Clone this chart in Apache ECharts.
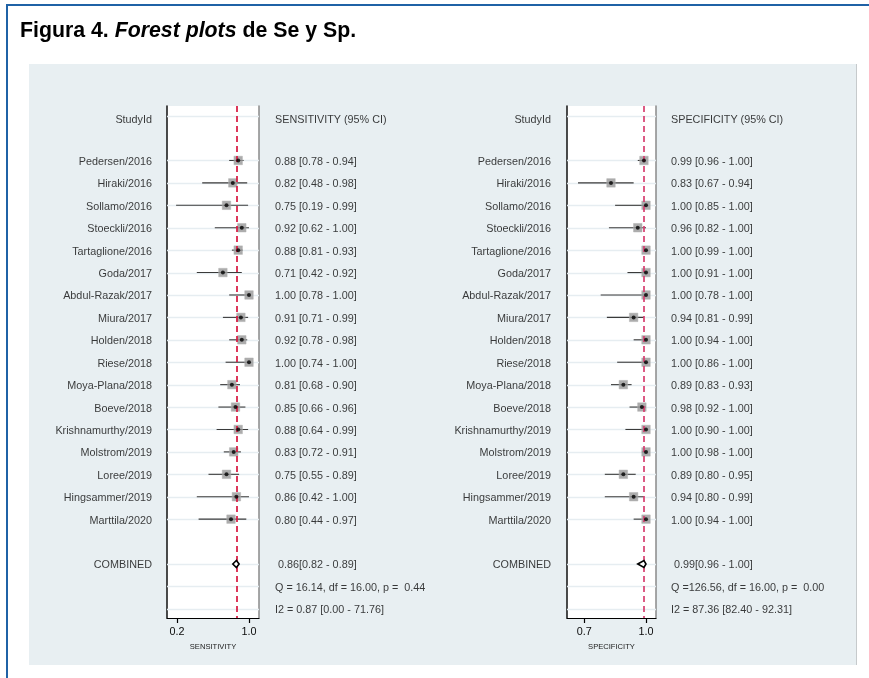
<!DOCTYPE html>
<html>
<head>
<meta charset="utf-8">
<script src="https://cdn.jsdelivr.net/npm/echarts@6/dist/echarts.min.js"></script>
<style>
  html, body { margin: 0; padding: 0; background: #ffffff; }
  #wrap { position: relative; width: 869px; height: 678px; overflow: hidden; }
  /* page frame and shaded figure panel */
  #frameTop { position: absolute; left: 6px; top: 4px; width: 863px; height: 2px; background: #1f62a6; }
  #frameLeft { position: absolute; left: 6px; top: 4px; width: 2px; height: 674px; background: #1f62a6; }
  #panel { position: absolute; left: 29px; top: 64px; width: 827px; height: 601px; background: #e8eff2; border-right: 1px solid #c6cacc; }
  #main { position: absolute; left: 0; top: 0; width: 869px; height: 678px; }
</style>
</head>
<body>
<div id="wrap">
  <div id="frameTop"></div>
  <div id="frameLeft"></div>
  <div id="panel"></div>
  <div id="main"></div>
</div>
<script>
// Study labels
const studies = ['Pedersen/2016', 'Hiraki/2016', 'Sollamo/2016', 'Stoeckli/2016', 'Tartaglione/2016',
  'Goda/2017', 'Abdul-Razak/2017', 'Miura/2017', 'Holden/2018', 'Riese/2018', 'Moya-Plana/2018',
  'Boeve/2018', 'Krishnamurthy/2019', 'Molstrom/2019', 'Loree/2019', 'Hingsammer/2019', 'Marttila/2020'];

// Sensitivity per study: estimate, lower and upper 95% CI
const sens   = [0.88, 0.82, 0.75, 0.92, 0.88, 0.71, 1.00, 0.91, 0.92, 1.00, 0.81, 0.85, 0.88, 0.83, 0.75, 0.86, 0.80];
const sensLo = [0.78, 0.48, 0.19, 0.62, 0.81, 0.42, 0.78, 0.71, 0.78, 0.74, 0.68, 0.66, 0.64, 0.72, 0.55, 0.42, 0.44];
const sensHi = [0.94, 0.98, 0.99, 1.00, 0.93, 0.92, 1.00, 0.99, 0.98, 1.00, 0.90, 0.96, 0.99, 0.91, 0.89, 1.00, 0.97];

// Specificity per study: estimate, lower and upper 95% CI
const spec   = [0.99, 0.83, 1.00, 0.96, 1.00, 1.00, 1.00, 0.94, 1.00, 1.00, 0.89, 0.98, 1.00, 1.00, 0.89, 0.94, 1.00];
const specLo = [0.96, 0.67, 0.85, 0.82, 0.99, 0.91, 0.78, 0.81, 0.94, 0.86, 0.83, 0.92, 0.90, 0.98, 0.80, 0.80, 0.94];
const specHi = [1.00, 0.94, 1.00, 1.00, 1.00, 1.00, 1.00, 0.99, 1.00, 1.00, 0.93, 1.00, 1.00, 1.00, 0.95, 0.99, 1.00];

// Pooled estimates [estimate, lower, upper], heterogeneity Q [Q, df, p] and I2 [I2, lower, upper]
const sensCombined = [0.86, 0.82, 0.89];
const sensQ  = [16.14, 16.00, 0.44];
const sensI2 = [0.87, 0.00, 71.76];
const specCombined = [0.99, 0.96, 1.00];
const specQ  = [126.56, 16.00, 0.00];
const specI2 = [87.36, 82.40, 92.31];

// Axis tick labels
const sensTicks = [0.2, 1.0];
const specTicks = [0.7, 1.0];

const FONT = "'Liberation Sans', Arial, Helvetica, sans-serif";
const TXT = '#0a0a0a';
const FS = 10.8;

// Row layout: header row 0, studies from row 2, pooled row 20, Q row 21, I2 row 22
const ROW_START = 2, ROW_COMB = 20, ROW_Q = 21, ROW_I2 = 22;
const Y_MIN = -0.43, Y_MAX = 22.41;

const f2 = v => v.toFixed(2);

function panelSeries(k, cfg) {
  const xi = k, yi = 2 * k;
  const [xmin, xmax] = cfg.range;
  const n = studies.length;
  const rowsWithText = [0];
  for (let i = 0; i < n; i++) rowsWithText.push(ROW_START + i);
  rowsWithText.push(ROW_COMB, ROW_Q, ROW_I2);

  const ci = cfg.est.map((e, i) => [cfg.lo[i], cfg.hi[i], ROW_START + i]);
  const pts = cfg.est.map((e, i) => [e, ROW_START + i]);

  const headOff = { offset: [0, 4] };
  const names = [{ name: 'StudyId', value: [xmin, 0], label: headOff }]
    .concat(studies.map((s, i) => ({ name: s, value: [xmin, ROW_START + i] })))
    .concat([{ name: 'COMBINED', value: [xmin, ROW_COMB] }]);

  const c = cfg.comb;
  const q = cfg.q, i2 = cfg.i2;
  const values = [{ name: cfg.header, value: [xmax, 0], label: headOff }]
    .concat(cfg.est.map((e, i) => ({ name: `${f2(e)} [${f2(cfg.lo[i])} - ${f2(cfg.hi[i])}]`, value: [xmax, ROW_START + i] })))
    .concat([
      { name: ` ${f2(c[0])}[${f2(c[1])} - ${f2(c[2])}]`, value: [xmax, ROW_COMB] },
      { name: `Q =${f2(q[0]).padStart(6)}, df = ${f2(q[1])}, p = ${f2(q[2]).padStart(5)}`, value: [xmax, ROW_Q] },
      { name: `I2 = ${f2(i2[0])} [${f2(i2[1])} - ${f2(i2[2])}]`, value: [xmax, ROW_I2] }
    ]);

  const textStyle = { fontFamily: FONT, fontSize: FS, color: TXT, offset: [0, 1.5] };

  return [
    // light row guides inside the plot box
    {
      type: 'custom', xAxisIndex: xi, yAxisIndex: yi, z: 1, silent: true,
      data: rowsWithText.map(r => [xmin, r]),
      renderItem: (params, api) => {
        const cs = params.coordSys;
        const y = Math.round(api.coord([xmin, api.value(1)])[1]) + 0.5;
        return { type: 'line', shape: { x1: cs.x, y1: y, x2: cs.x + cs.width, y2: y },
                 style: { stroke: '#e6edf1', lineWidth: 1.3 } };
      }
    },
    // confidence intervals, with the pooled-estimate reference line
    {
      type: 'custom', xAxisIndex: xi, yAxisIndex: yi, z: 2, silent: true,
      data: ci,
      encode: { x: [0, 1], y: 2 },
      renderItem: (params, api) => {
        const a = api.coord([api.value(0), api.value(2)]);
        const b = api.coord([api.value(1), api.value(2)]);
        return { type: 'line', shape: { x1: a[0], y1: a[1], x2: b[0], y2: b[1] },
                 style: { stroke: '#3a3a3a', lineWidth: 1.1 } };
      },
      markLine: {
        silent: true, symbol: 'none', animation: false,
        label: { show: false },
        lineStyle: { color: cfg.refColor, width: 1.7, type: [6, 4] },
        data: [{ xAxis: c[0] }]
      }
    },
    // study weight boxes
    {
      type: 'scatter', xAxisIndex: xi, yAxisIndex: yi, z: 4, silent: true,
      symbol: 'rect', symbolSize: 8.5, data: pts,
      itemStyle: { color: '#979797', borderColor: '#b0b0b0', borderWidth: 0.6 }
    },
    // point estimates
    {
      type: 'scatter', xAxisIndex: xi, yAxisIndex: yi, z: 5, silent: true,
      symbol: 'circle', symbolSize: 4, data: pts,
      itemStyle: { color: '#000000' }
    },
    // pooled estimate diamond
    {
      type: 'custom', xAxisIndex: xi, yAxisIndex: yi, z: 5, silent: true,
      data: [[c[0], c[1], c[2], ROW_COMB]],
      encode: { x: [1, 2], y: 3 },
      renderItem: (params, api) => {
        const r = api.value(3);
        const e = api.coord([api.value(0), r]);
        const l = api.coord([api.value(1), r]);
        const h = api.coord([api.value(2), r]);
        return { type: 'polygon',
                 shape: { points: [[l[0], l[1]], [e[0], e[1] - 3.5], [h[0], h[1]], [e[0], e[1] + 3.5]] },
                 style: { fill: '#ffffff', stroke: '#000000', lineWidth: 1.6 } };
      }
    },
    // study names column
    {
      type: 'scatter', xAxisIndex: xi, yAxisIndex: yi, z: 6, silent: true, clip: false,
      symbolSize: 0, data: names,
      label: Object.assign({ show: true, position: 'left', distance: cfg.nameGap, formatter: '{b}' }, textStyle)
    },
    // estimate / statistics column
    {
      type: 'scatter', xAxisIndex: xi, yAxisIndex: yi, z: 6, silent: true, clip: false,
      symbolSize: 0, data: values,
      label: Object.assign({ show: true, position: 'right', distance: cfg.valGap, formatter: '{b}' }, textStyle)
    }
  ];
}

function xAxisFor(k, range, ticks, name) {
  return {
    gridIndex: k, type: 'value', position: 'bottom', min: range[0], max: range[1],
    axisLine: { show: true, onZero: false, lineStyle: { color: '#000', width: 1.2 } },
    axisTick: { show: true, length: 5, customValues: ticks, lineStyle: { color: '#000', width: 1.2 } },
    axisLabel: { show: true, customValues: ticks, margin: 9, formatter: v => v.toFixed(1),
                 fontFamily: FONT, fontSize: FS, color: TXT },
    splitLine: { show: false },
    name: name, nameLocation: 'middle', nameGap: 22,
    nameTextStyle: { fontFamily: FONT, fontSize: 7.6, color: '#1a1a1a' }
  };
}

function yAxesFor(k) {
  const base = {
    gridIndex: k, type: 'value', inverse: true, min: Y_MIN, max: Y_MAX,
    axisTick: { show: false }, axisLabel: { show: false }, splitLine: { show: false }
  };
  return [
    Object.assign({}, base, { position: 'left', axisLine: { show: true, onZero: false, lineStyle: { color: '#111', width: 1.5 } } }),
    Object.assign({}, base, { position: 'right', axisLine: { show: true, onZero: false, lineStyle: { color: '#8a8a8a', width: 1.5 } } })
  ];
}

const sensRange = [0.0889, 1.1111];
const specRange = [0.6165, 1.0485];

const option = {
  animation: false,
  backgroundColor: 'transparent',
  title: {
    left: 20, top: 21, padding: 0,
    text: '{b|Figura 4. }{i|Forest plots}{b| de Se y Sp.}',
    textStyle: {
      rich: {
        b: { fontFamily: FONT, fontSize: 21.3, fontWeight: 'bold', color: '#000' },
        i: { fontFamily: FONT, fontSize: 21.3, fontWeight: 'bold', fontStyle: 'italic', color: '#000' }
      }
    }
  },
  grid: [
    { left: 167, top: 106, width: 92, height: 512, show: true, backgroundColor: '#ffffff', borderWidth: 0 },
    { left: 567, top: 106, width: 89, height: 512, show: true, backgroundColor: '#ffffff', borderWidth: 0 }
  ],
  xAxis: [
    xAxisFor(0, sensRange, sensTicks, 'SENSITIVITY'),
    xAxisFor(1, specRange, specTicks, 'SPECIFICITY')
  ],
  yAxis: yAxesFor(0).concat(yAxesFor(1)),
  series: panelSeries(0, {
    range: sensRange, est: sens, lo: sensLo, hi: sensHi, comb: sensCombined, q: sensQ, i2: sensI2,
    header: 'SENSITIVITY (95% CI)', refColor: '#d6163f', nameGap: 15, valGap: 16
  }).concat(panelSeries(1, {
    range: specRange, est: spec, lo: specLo, hi: specHi, comb: specCombined, q: specQ, i2: specI2,
    header: 'SPECIFICITY (95% CI)', refColor: '#d63f70', nameGap: 16, valGap: 15
  }))
};

const chart = echarts.init(document.getElementById('main'), null, { renderer: 'canvas' });
chart.setOption(option);
</script>
</body>
</html>
